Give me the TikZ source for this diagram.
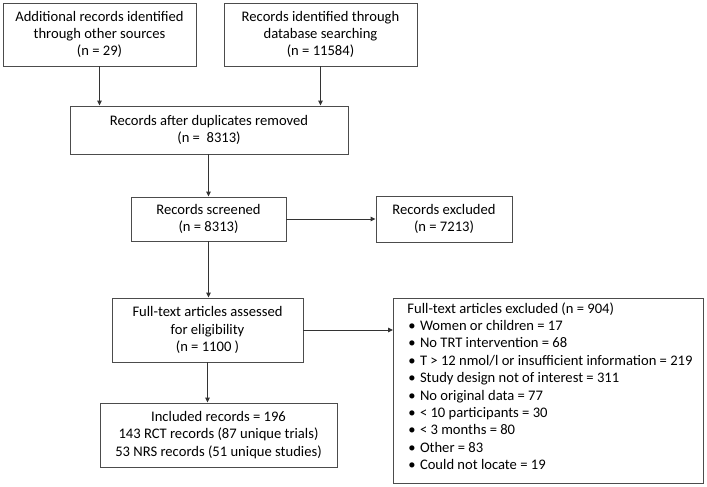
\documentclass[tikz,border=0pt]{standalone}
\usepackage{fontspec}
\setmainfont{Carlito}
\usetikzlibrary{arrows.meta}
\newcommand\bitem{\hspace*{0.8pt}\textbullet\hspace{4.5pt}}
\begin{document}
\begin{tikzpicture}[x=1pt,y=-1pt,
  box/.style={draw=black!70,line width=0.9pt,inner sep=0pt,align=center,
    font=\fontsize{14.6}{17.4}\selectfont,fill=white},
  conn/.style={draw=black!80,line width=1pt,-{Triangle[length=5pt,width=4.5pt]}}]
\useasboundingbox[fill=white] (0,0) rectangle (707,487);
\node[box,minimum width=193pt,minimum height=63pt] (A) at (99.5,34.5)
  {Additional records identified\\through other sources\\(n = 29)};
\node[box,minimum width=193pt,minimum height=63pt] (B) at (320.5,34.5)
  {Records identified through\\database searching\\(n = 11584)};
\node[box,minimum width=278pt,minimum height=48pt] (C) at (209,130)
  {Records after duplicates removed\\(n = \ 8313)};
\node[box,minimum width=155pt,minimum height=44pt] (D) at (208.5,219)
  {Records screened\\(n = 8313)};
\node[box,minimum width=136pt,minimum height=46pt] (E) at (444,219)
  {Records excluded\\(n = 7213)};
\node[box,minimum width=191pt,minimum height=64pt] (F) at (207.5,330)
  {Full-text articles assessed\\for eligibility\\(n = 1100 )};
\node[box,minimum width=310pt,minimum height=185pt] (G) at (548.5,390.5) {};
\node[box,draw=none,fill=none,anchor=north west,align=left] (Gt) at (407,302)
  {Full-text articles excluded (n = 904)\\
   \bitem Women or children = 17\\
   \bitem No TRT intervention = 68\\
   \bitem T > 12 nmol/l or insufficient information = 219\\
   \bitem Study design not of interest = 311\\
   \bitem No original data = 77\\
   \bitem < 10 participants = 30\\
   \bitem < 3 months = 80\\
   \bitem Other = 83\\
   \bitem Could not locate = 19};
\node[box,minimum width=237pt,minimum height=64pt] (H) at (218.5,435)
  {Included records = 196\\143 RCT records (87 unique trials)\\53 NRS records (51 unique studies)};
\draw[conn] (A.south) -- (A.south |- C.north);
\draw[conn] (B.south) -- (B.south |- C.north);
\draw[conn] (D.north |- C.south) -- (D.north);
\draw[conn] (D.east) -- (E.west);
\draw[conn] (D.south) -- (D.south |- F.north);
\draw[conn] (F.east) -- (F.east -| G.west);
\draw[conn] (F.south) -- (F.south |- H.north);
\end{tikzpicture}
\end{document}
